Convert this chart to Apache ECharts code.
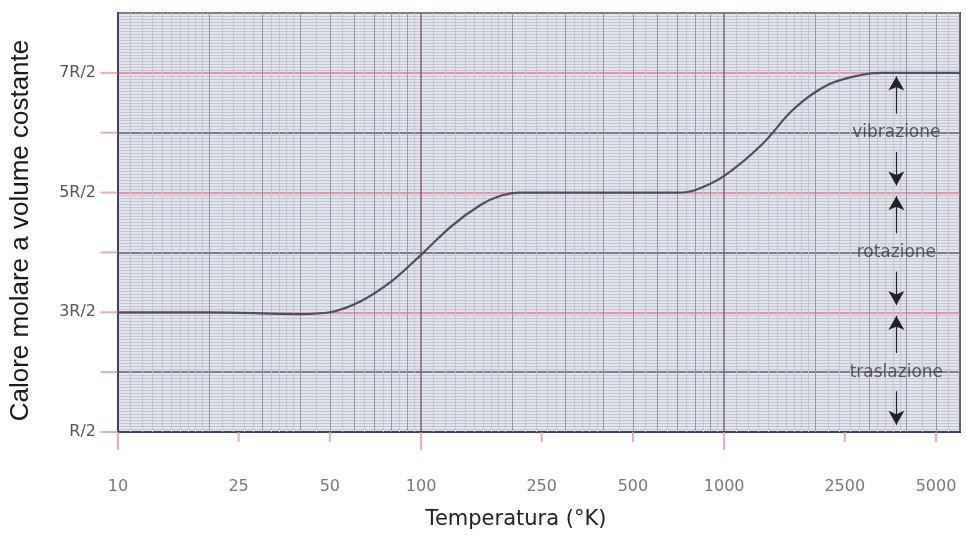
<!DOCTYPE html>
<html>
<head>
<meta charset="utf-8">
<script src="https://cdn.jsdelivr.net/npm/echarts@6/dist/echarts.min.js"></script>
<style>
  html, body { margin: 0; background: #fff; }
  #chart { width: 967px; height: 535px; }
</style>
</head>
<body>
<div id="chart"></div>
<script>
// curve: temperature (K) -> molar heat at constant volume (in units of R)
const temps = [10, 20, 40, 50, 63, 80, 100, 126, 158, 184, 210, 250, 500, 700, 800, 1000, 1330, 1700, 2200, 2800, 3300, 4000, 6000];
const cv = [1.5, 1.5, 1.485, 1.5, 1.59, 1.76, 1.98, 2.22, 2.4, 2.475, 2.5, 2.5, 2.5, 2.5, 2.52, 2.64, 2.9, 3.2, 3.4, 3.48, 3.5, 3.5, 3.5];

// axis ticks
const xTickValues = [10, 25, 50, 100, 250, 500, 1000, 2500, 5000];
const xTickLabels = ['10', '25', '50', '100', '250', '500', '1000', '2500', '5000'];
const yTickValues = [0.5, 1, 1.5, 2, 2.5, 3, 3.5];
const yTickLabels = ['R/2', '', '3R/2', '', '5R/2', '', '7R/2'];

// log graph paper rulings (per decade)
const decades = [10, 100, 1000];
const paperMults = [1.1, 1.2, 1.3, 1.4, 1.5, 1.6, 1.7, 1.8, 1.9, 2, 2.2, 2.4, 2.6, 2.8, 3, 3.2, 3.4, 3.6, 3.8, 4, 4.5, 5, 5.5, 6, 6.5, 7, 7.5, 8, 8.5, 9, 9.5];

// degrees of freedom bands shown on the right
const bandNames = ['traslazione', 'rotazione', 'vibrazione'];
const bandLow = [0.5, 1.5, 2.5];
const bandHigh = [1.5, 2.5, 3.5];
const arrowT = 3700;

const GRID_BG = '#e3e5ec';
const FINE = '#c4c7d1';
const MEDIUM = '#9497a6';
const PINK = '#e295aa';
const FRAME = '#3d4160';

const chart = echarts.init(document.getElementById('chart'));

// vertical paper lines
const paperLines = [];
decades.forEach((d) => {
  paperMults.forEach((m) => {
    const v = d * m;
    if (v >= 6000) return;
    const isMedium = Number.isInteger(m);
    paperLines.push({
      xAxis: v,
      lineStyle: { color: isMedium ? MEDIUM : FINE, width: 1, type: 'solid' },
    });
  });
});

// arrows: one pointing up to the top of each band, one pointing down to the bottom
const arrowLines = [];
bandNames.forEach((name, i) => {
  const mid = (bandLow[i] + bandHigh[i]) / 2;
  arrowLines.push([{ coord: [arrowT, mid + 0.16] }, { coord: [arrowT, bandHigh[i] - 0.03] }]);
  arrowLines.push([{ coord: [arrowT, mid - 0.16] }, { coord: [arrowT, bandLow[i] + 0.06] }]);
});

const option = {
  animation: false,
  grid: {
    left: 117, right: 7, top: 13, bottom: 103,
    show: true,
    backgroundColor: GRID_BG,
    borderColor: FRAME,
    borderWidth: 2,
  },
  xAxis: {
    type: 'log',
    logBase: 10,
    min: 10,
    max: 6000,
    name: 'Temperatura (°K)',
    nameLocation: 'middle',
    nameGap: 77,
    nameTextStyle: { fontFamily: 'DejaVu Sans', fontSize: 21, color: '#222', padding: [0, 46, 0, 0] },
    axisLine: { lineStyle: { color: FRAME, width: 2 } },
    axisTick: { show: false },
    axisLabel: { show: false },
    splitLine: { show: true, lineStyle: { color: '#7d6376', width: 1.5 } },
  },
  yAxis: {
    type: 'value',
    min: 0.5,
    max: 4,
    interval: 0.5,
    name: 'Calore molare a volume costante',
    nameLocation: 'middle',
    nameGap: 84,
    nameTextStyle: { fontFamily: 'Liberation Sans', fontSize: 26, color: '#1a1a1a', padding: [0, 16, 0, 0] },
    axisLine: { show: true, lineStyle: { color: FRAME, width: 2 } },
    axisTick: { show: false },
    axisLabel: {
      margin: 22,
      fontFamily: 'DejaVu Sans',
      fontSize: 16,
      color: '#555',
      formatter: (v) => yTickLabels[yTickValues.indexOf(v)] || '',
    },
    splitLine: { show: true, lineStyle: { color: [PINK, '#7c7f8e'], width: 2 } },
    minorTick: { show: false, splitNumber: 20 },
    minorSplitLine: { show: true, lineStyle: { color: FINE, width: 1 } },
  },
  series: [
    {
      name: 'paper',
      type: 'line',
      data: [],
      silent: true,
      z: 1,
      markLine: {
        silent: true,
        symbol: 'none',
        label: { show: false },
        data: paperLines,
      },
    },
    {
      name: 'Cv',
      type: 'line',
      data: temps.map((t, i) => [t, cv[i]]),
      smooth: 0.35,
      showSymbol: false,
      lineStyle: { color: '#4d5060', width: 2.2 },
      z: 5,
    },
    {
      name: 'arrows',
      type: 'line',
      data: [],
      z: 6,
      markLine: {
        silent: true,
        symbol: ['none', 'arrow'],
        symbolSize: [12, 14],
        label: { show: false },
        lineStyle: { color: '#222', width: 1.2, type: 'solid' },
        data: arrowLines,
      },
    },
    {
      name: 'bandLabels',
      type: 'scatter',
      symbolSize: 0,
      z: 7,
      data: bandNames.map((n, i) => ({ name: n, value: [arrowT, (bandLow[i] + bandHigh[i]) / 2] })),
      label: {
        show: true,
        position: 'inside',
        formatter: (p) => p.name,
        fontFamily: 'DejaVu Sans',
        fontSize: 17,
        color: '#3a3a3a',
      },
    },
    {
      name: 'xTicks',
      type: 'scatter',
      clip: false,
      z: 3,
      symbol: 'rect',
      itemStyle: { color: PINK },
      data: xTickValues.map((v) => {
        const len = decades.includes(v) ? 18 : 10;
        return { value: [v, 0.5], symbolSize: [2, len], symbolOffset: [0, len / 2] };
      }),
    },
    {
      name: 'yTicks',
      type: 'scatter',
      clip: false,
      z: 3,
      symbol: 'rect',
      symbolSize: [17, 2],
      symbolOffset: [-9, 0],
      itemStyle: { color: PINK },
      data: yTickValues.map((v) => [10, v]),
    },
    {
      name: 'xTickLabels',
      type: 'scatter',
      clip: false,
      symbolSize: 0,
      z: 3,
      data: xTickValues.map((v) => [v, 0.5]),
      label: {
        show: true,
        position: 'bottom',
        distance: 47,
        formatter: (p) => xTickLabels[p.dataIndex],
        fontFamily: 'DejaVu Sans',
        fontSize: 16,
        color: '#555',
      },
    },
  ],
};

chart.setOption(option);
</script>
</body>
</html>
